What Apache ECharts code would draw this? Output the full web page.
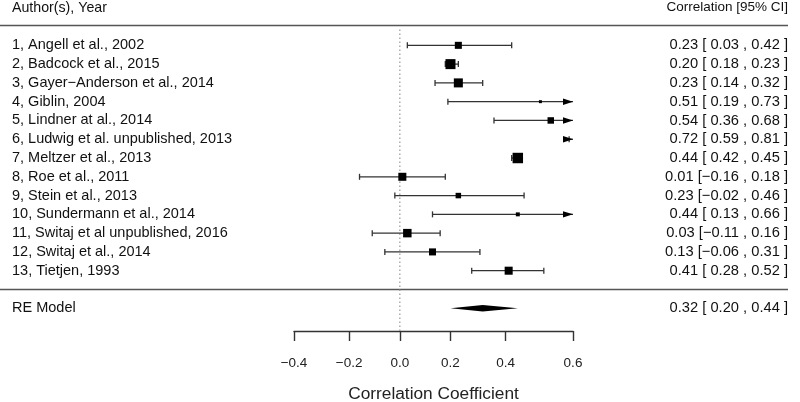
<!DOCTYPE html>
<html>
<head>
<meta charset="utf-8">
<script src="https://cdn.jsdelivr.net/npm/echarts@6/dist/echarts.min.js"></script>
<style>html,body{margin:0;padding:0;background:#fff}#chart{width:800px;height:402px}</style>
</head>
<body>
<div id="chart"></div>
<script>
// ---------------- data ----------------
const studyLabels = [
  '1, Angell et al., 2002',
  '2, Badcock et al., 2015',
  '3, Gayer\u2212Anderson et al., 2014',
  '4, Giblin, 2004',
  '5, Lindner at al., 2014',
  '6, Ludwig et al. unpublished, 2013',
  '7, Meltzer et al., 2013',
  '8, Roe et al., 2011',
  '9, Stein et al., 2013',
  '10, Sundermann et al., 2014',
  '11, Switaj et al unpublished, 2016',
  '12, Switaj et al., 2014',
  '13, Tietjen, 1993'
];
const estimates = [0.23, 0.20, 0.23, 0.51, 0.54, 0.72, 0.44, 0.01, 0.23, 0.44, 0.03, 0.13, 0.41];
const ciLower   = [0.03, 0.18, 0.14, 0.19, 0.36, 0.59, 0.42, -0.16, -0.02, 0.13, -0.11, -0.06, 0.28];
const ciUpper   = [0.42, 0.23, 0.32, 0.73, 0.68, 0.81, 0.45, 0.18, 0.46, 0.66, 0.16, 0.31, 0.52];
// relative study weights (drive square size)
const weights   = [6.4, 9.1, 8.2, 2.7, 5.9, 7.3, 9.5, 7.3, 5.0, 3.6, 7.7, 6.4, 7.3];
const summaryLabel = 'RE Model';
const summaryValues = [0.32, 0.20, 0.44]; // estimate, lower, upper
const tickLabels = [-0.4, -0.2, 0.0, 0.2, 0.4, 0.6];
const headerLeft = 'Author(s), Year';
const headerRight = 'Correlation [95% CI]';
const axisTitle = 'Correlation Coefficient';

// ---------------- helpers ----------------
const FONT = 'Liberation Sans, Arial, Helvetica, sans-serif';
const z = r => Math.atanh(r);            // Fisher z scale used for the x axis
const minus = s => s.replace('-', '\u2212');
const fmt = v => minus(v.toFixed(2));
const fmtPad = v => (v < 0 ? '' : ' ') + fmt(v);
const annot = (e, l, u) => fmt(e) + ' [' + fmtPad(l) + ' , ' + fmt(u) + ' ]';

const k = studyLabels.length;
const rowOf = i => k - i;                 // first study on top
const summaryRow = -1;
const headerRow = k + 2;
const ruleRows = [k + 1.05, 0];
const xMin = z(tickLabels[0]);
const xMax = z(tickLabels[tickLabels.length - 1]);
const yMin = -2.211, yMax = 15.414;

const studyData = studyLabels.map((_, i) => [rowOf(i), z(estimates[i]), z(ciLower[i]), z(ciUpper[i]), weights[i]]);

const chart = echarts.init(document.getElementById('chart'), null, {renderer: 'canvas'});

const textData = [
  [headerRow, headerLeft, headerRight, 1],
  ...studyLabels.map((lab, i) => [rowOf(i), lab, annot(estimates[i], ciLower[i], ciUpper[i]), 0]),
  [summaryRow, summaryLabel, annot(summaryValues[0], summaryValues[1], summaryValues[2]), 0]
];

const option = {
  animation: false,
  backgroundColor: '#ffffff',
  grid: {left: 294, right: 227, top: 0, bottom: 71, containLabel: false, outerBoundsMode: 'none'},
  xAxis: {
    type: 'value', min: xMin, max: xMax,
    splitLine: {show: false},
    axisLine: {show: true, onZero: false, lineStyle: {color: '#333', width: 1.4}},
    axisTick: {show: true, length: 10, customValues: tickLabels.map(z), lineStyle: {color: '#333', width: 1.4}},
    axisLabel: {
      customValues: tickLabels.map(z), margin: 25,
      color: '#222', fontSize: 13.5, fontFamily: FONT,
      formatter: v => minus(Math.tanh(v).toFixed(1))
    },
    name: axisTitle, nameLocation: 'middle', nameGap: 55,
    nameTextStyle: {color: '#222', fontSize: 17.3, fontFamily: FONT}
  },
  yAxis: {type: 'value', min: yMin, max: yMax, show: false},
  series: [
    // horizontal rules
    {
      type: 'custom', clip: false, silent: true, z: 1,
      data: ruleRows.map(r => [0, r]),
      encode: {x: 0, y: 1},
      renderItem: (params, api) => {
        const y = api.coord([0, api.value(1)])[1];
        return {type: 'line', shape: {x1: 0, y1: y, x2: 788, y2: y},
                style: {stroke: '#555', lineWidth: 1.5}};
      }
    },
    // dotted reference line at correlation 0
    {
      type: 'custom', clip: false, silent: true, z: 1,
      data: [[z(0), yMin, k + 0.9]],
      encode: {x: 0, y: [1, 2]},
      renderItem: (params, api) => {
        const p1 = api.coord([api.value(0), api.value(1)]);
        const p2 = api.coord([api.value(0), api.value(2)]);
        return {type: 'line', shape: {x1: p1[0], y1: p1[1], x2: p2[0], y2: p2[1]},
                style: {stroke: '#999', lineWidth: 1.2, lineDash: [1.5, 2.5]}};
      }
    },
    // study CIs and squares
    {
      type: 'custom', clip: false, z: 3,
      data: studyData,
      encode: {x: [1, 2, 3], y: 0},
      renderItem: (params, api) => {
        const row = api.value(0), est = api.value(1), lo = api.value(2), hi = api.value(3), w = api.value(4);
        const y = api.coord([0, row])[1];
        const xl = api.coord([Math.max(lo, xMin), row])[0];
        const xh = api.coord([Math.min(hi, xMax), row])[0];
        const children = [];
        const stroke = {stroke: '#333', lineWidth: 1.3};
        children.push({type: 'line', shape: {x1: xl, y1: y, x2: xh, y2: y}, style: stroke});
        if (lo >= xMin) children.push({type: 'line', shape: {x1: xl, y1: y - 3, x2: xl, y2: y + 3}, style: stroke});
        if (hi <= xMax) {
          children.push({type: 'line', shape: {x1: xh, y1: y - 3, x2: xh, y2: y + 3}, style: stroke});
        } else {
          children.push({type: 'polygon', shape: {points: [[xh, y], [xh - 10, y - 3.2], [xh - 10, y + 3.2]]},
                         style: {fill: '#000'}});
        }
        if (est >= xMin && est <= xMax) {
          const s = w * 1.1;
          const x = api.coord([est, row])[0];
          children.push({type: 'rect', shape: {x: x - s / 2, y: y - s / 2, width: s, height: s}, style: {fill: '#000'}});
        }
        return {type: 'group', children};
      }
    },
    // summary diamond
    {
      type: 'custom', clip: false, z: 3,
      data: [[summaryRow, z(summaryValues[0]), z(summaryValues[1]), z(summaryValues[2])]],
      encode: {x: [1, 2, 3], y: 0},
      renderItem: (params, api) => {
        const row = api.value(0);
        const pe = api.coord([api.value(1), row]);
        const pl = api.coord([api.value(2), row]);
        const ph = api.coord([api.value(3), row]);
        const h = 3.3;
        return {type: 'polygon', shape: {points: [[pl[0], pl[1]], [pe[0], pe[1] - h], [ph[0], ph[1]], [pe[0], pe[1] + h]]},
                style: {fill: '#000'}};
      }
    },
    // text columns
    {
      type: 'custom', clip: false, silent: true, z: 4,
      data: textData,
      encode: {y: 0},
      renderItem: (params, api) => {
        const d = textData[params.dataIndex];
        const y = api.coord([0, d[0]])[1];
        const isHeader = d[3] === 1;
        const st = {fill: '#111', fontFamily: FONT, verticalAlign: 'middle'};
        return {type: 'group', children: [
          {type: 'text', x: 12, y: y, style: Object.assign({text: d[1], align: 'left', fontSize: isHeader ? 14.2 : 14.5}, st)},
          {type: 'text', x: 788, y: y, style: Object.assign({text: d[2], align: 'right', fontSize: isHeader ? 13.5 : 14.7}, st)}
        ]};
      }
    }
  ]
};
chart.setOption(option);
</script>
</body>
</html>
